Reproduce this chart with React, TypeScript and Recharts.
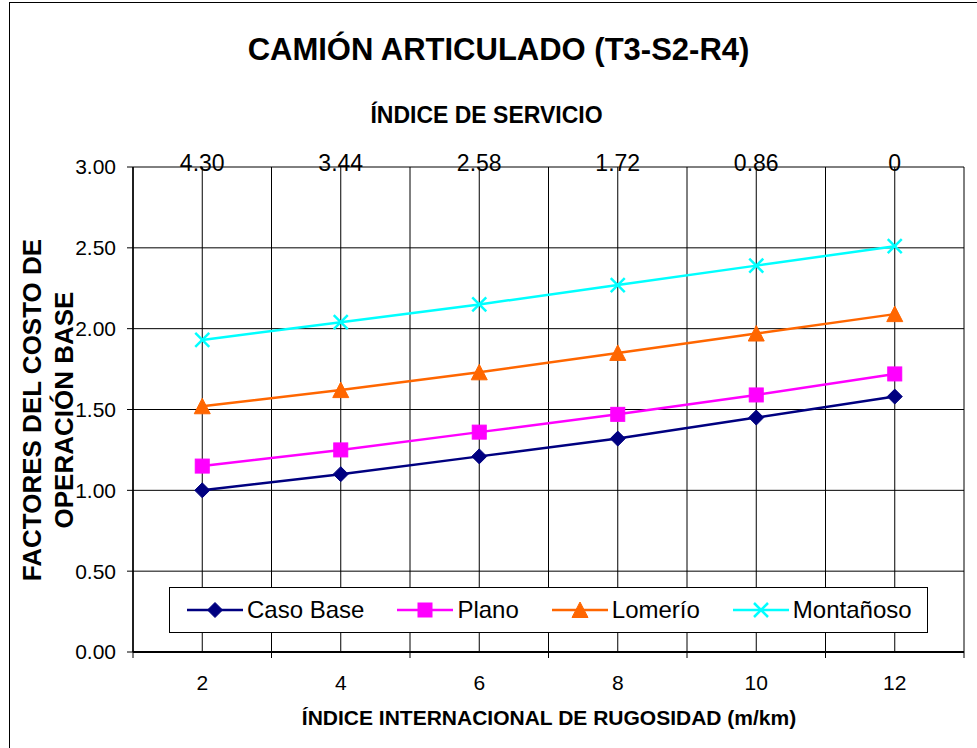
import React from 'react';
import { LineChart, Line, XAxis, YAxis, CartesianGrid } from 'recharts';

const rugosidad = [2, 4, 6, 8, 10, 12];
const indiceServicio = ['4.30', '3.44', '2.58', '1.72', '0.86', '0'];
const casoBase = [1.0, 1.1, 1.21, 1.32, 1.45, 1.58];
const plano = [1.15, 1.25, 1.36, 1.47, 1.59, 1.72];
const lomerio = [1.52, 1.62, 1.73, 1.85, 1.97, 2.09];
const montanoso = [1.93, 2.04, 2.15, 2.27, 2.39, 2.51];
const xTicks = [1, 2, 3, 4, 5, 6, 7, 8, 9, 10, 11, 12, 13];
const yTicks = [0, 0.5, 1, 1.5, 2, 2.5, 3];

const title = 'CAMIÓN ARTICULADO (T3-S2-R4)';
const topTitle = 'ÍNDICE DE SERVICIO';
const xTitle = 'ÍNDICE INTERNACIONAL DE RUGOSIDAD (m/km)';
const yTitle1 = 'FACTORES DEL COSTO DE';
const yTitle2 = 'OPERACIÓN BASE';

const data = rugosidad.map((x, i) => ({
  x,
  caso: casoBase[i],
  plano: plano[i],
  lomerio: lomerio[i],
  montanoso: montanoso[i],
}));

const series = [
  { key: 'caso', name: 'Caso Base', color: '#000080', marker: 'diamond' },
  { key: 'plano', name: 'Plano', color: '#FF00FF', marker: 'square' },
  { key: 'lomerio', name: 'Lomerío', color: '#FF6600', marker: 'triangle' },
  { key: 'montanoso', name: 'Montañoso', color: '#00FFFF', marker: 'x' },
];

const FONT = '"Liberation Sans", Arial, sans-serif';

function marker(kind: string, cx: number, cy: number, color: string, key?: any) {
  if (kind === 'diamond') {
    const r = 7.5;
    return (
      <polygon key={key} points={`${cx},${cy - r} ${cx + r},${cy} ${cx},${cy + r} ${cx - r},${cy}`} fill={color} stroke={color} strokeWidth={1} />
    );
  }
  if (kind === 'square') {
    return <rect key={key} x={cx - 7} y={cy - 7} width={14} height={14} fill={color} stroke={color} strokeWidth={1} />;
  }
  if (kind === 'triangle') {
    return (
      <polygon key={key} points={`${cx},${cy - 8} ${cx + 8},${cy + 7.5} ${cx - 8},${cy + 7.5}`} fill={color} stroke={color} strokeWidth={1} />
    );
  }
  return (
    <g key={key}>
      <line x1={cx - 7} y1={cy - 7} x2={cx + 7} y2={cy + 7} stroke={color} strokeWidth={2.5} />
      <line x1={cx - 7} y1={cy + 7} x2={cx + 7} y2={cy - 7} stroke={color} strokeWidth={2.5} />
    </g>
  );
}

const BottomTick = (props: any) => {
  const { x, y, payload } = props;
  const v = payload.value;
  if (v % 2 === 1) {
    return <line x1={x} x2={x} y1={y - 6} y2={y} stroke="#000" strokeWidth={1} />;
  }
  return (
    <text x={x} y={y + 32} textAnchor="middle" fontSize={21} fill="#000" fontFamily={FONT}>
      {v}
    </text>
  );
};

const TopTick = (props: any) => {
  const { x, y, payload } = props;
  const idx = rugosidad.indexOf(payload.value);
  return (
    <text x={x} y={y + 4} textAnchor="middle" fontSize={23} fill="#000" fontFamily={FONT}>
      {idx >= 0 ? indiceServicio[idx] : ''}
    </text>
  );
};

export default function App() {
  return (
    <div
      style={{
        position: 'absolute',
        left: 0,
        top: 0,
        width: 977,
        height: 748,
        overflow: 'hidden',
        background: '#fff',
        fontFamily: FONT,
        color: '#000',
      }}
    >
      <div
        style={{
          position: 'absolute',
          left: 9,
          top: 2,
          width: 1100,
          height: 1000,
          border: '1px solid #000',
          boxSizing: 'border-box',
        }}
      />
      <div
        style={{
          position: 'absolute',
          left: 0,
          top: 32,
          width: 997,
          textAlign: 'center',
          fontSize: 31,
          fontWeight: 'bold',
          lineHeight: '36px',
          whiteSpace: 'nowrap',
        }}
      >
        {title}
      </div>
      <div
        style={{
          position: 'absolute',
          left: 0,
          top: 101,
          width: 973,
          textAlign: 'center',
          fontSize: 23,
          fontWeight: 'bold',
          lineHeight: '28px',
          whiteSpace: 'nowrap',
        }}
      >
        {topTitle}
      </div>
      <div
        style={{
          position: 'absolute',
          left: 0,
          top: 705,
          width: 1098,
          textAlign: 'center',
          fontSize: 21,
          fontWeight: 'bold',
          lineHeight: '26px',
          whiteSpace: 'nowrap',
        }}
      >
        {xTitle}
      </div>
      <div
        style={{
          position: 'absolute',
          left: 48 - 200,
          top: 410 - 32,
          width: 400,
          height: 64,
          transform: 'rotate(-90deg)',
          transformOrigin: 'center center',
          textAlign: 'center',
          fontSize: 26,
          fontWeight: 'bold',
          lineHeight: '32px',
          whiteSpace: 'nowrap',
        }}
      >
        <div>{yTitle1}</div>
        <div>{yTitle2}</div>
      </div>
      <div style={{ position: 'absolute', left: 0, top: 0 }}>
        <LineChart width={977} height={748} data={data} margin={{ top: 157, right: 13, bottom: 36, left: 73 }}>
          <CartesianGrid stroke="#000" strokeWidth={1} />
          <XAxis
            dataKey="x"
            type="number"
            domain={[1, 13]}
            ticks={xTicks}
            interval={0}
            height={60}
            tickSize={6}
            tickMargin={0}
            tickLine={false}
            axisLine={{ stroke: '#000', strokeWidth: 2 }}
            tick={<BottomTick />}
          />
          <XAxis
            xAxisId="top"
            dataKey="x"
            orientation="top"
            type="number"
            domain={[1, 13]}
            ticks={rugosidad}
            interval={0}
            height={10}
            tickSize={0}
            tickMargin={0}
            tickLine={false}
            axisLine={false}
            tick={<TopTick />}
          />
          <YAxis
            type="number"
            domain={[0, 3]}
            ticks={yTicks}
            interval={0}
            width={60}
            tickSize={6}
            tickMargin={11}
            tickFormatter={(v: number) => v.toFixed(2)}
            tick={{ fill: '#000', fontSize: 21, fontFamily: FONT }}
            tickLine={{ stroke: '#000' }}
            axisLine={{ stroke: '#000', strokeWidth: 1.5 }}
          />
          <Line
            xAxisId="top"
            dataKey="caso"
            stroke="none"
            dot={false}
            activeDot={false}
            legendType="none"
            isAnimationActive={false}
          />
          {series.map((s) => (
            <Line
              key={s.key}
              dataKey={s.key}
              name={s.name}
              stroke={s.color}
              strokeWidth={2.5}
              isAnimationActive={false}
              dot={(p: any) => marker(s.marker, p.cx, p.cy, s.color, `${s.key}-${p.index}`)}
              activeDot={false}
            />
          ))}
        </LineChart>
      </div>
      <div
        style={{
          position: 'absolute',
          left: 169,
          top: 587,
          width: 759,
          height: 46,
          boxSizing: 'border-box',
          border: '1px solid #000',
          background: '#fff',
          display: 'flex',
          alignItems: 'center',
          paddingLeft: 17,
          whiteSpace: 'nowrap',
        }}
      >
        {series.map((s) => (
          <div key={s.key} style={{ display: 'flex', alignItems: 'center', marginRight: 33 }}>
            <svg width={56} height={20} style={{ display: 'block' }}>
              <line x1={0} x2={56} y1={10} y2={10} stroke={s.color} strokeWidth={2.5} />
              {marker(s.marker, 28, 10, s.color)}
            </svg>
            <span style={{ marginLeft: 4, fontSize: 24, lineHeight: '28px' }}>{s.name}</span>
          </div>
        ))}
      </div>
    </div>
  );
}
